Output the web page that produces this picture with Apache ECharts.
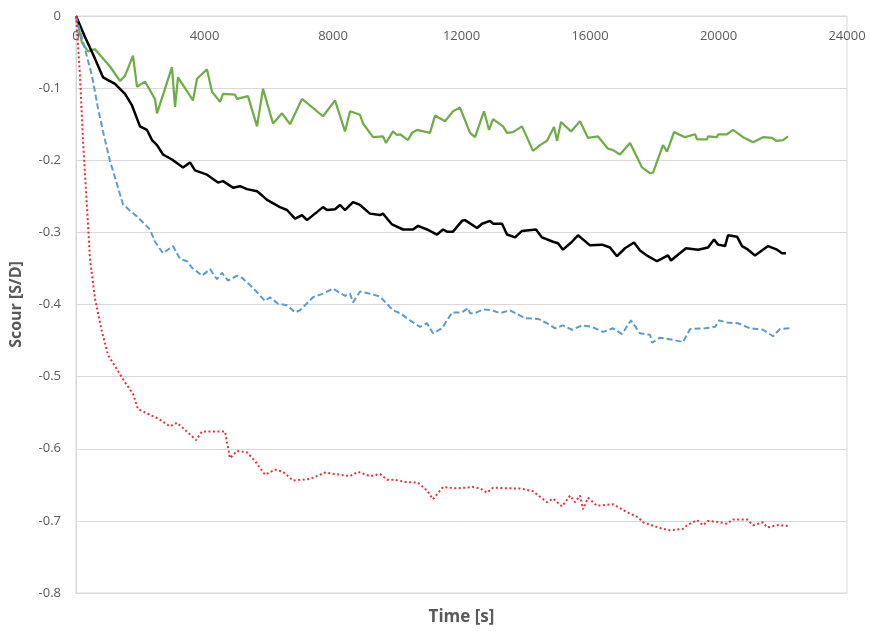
<!DOCTYPE html>
<html>
<head>
<meta charset="utf-8">
<script src="https://cdn.jsdelivr.net/npm/echarts@6/dist/echarts.min.js"></script>
<style>
  html, body { margin: 0; padding: 0; background: #fff; }
  #chart { width: 870px; height: 631px; }
</style>
</head>
<body>
<div id="chart"></div>
<script>
// time [s] and scour [S/D]
var greenT = [0, 187, 374, 591, 1058, 1370, 1525, 1774, 1899, 2148, 2459, 2522, 2988, 3082, 3175, 3455, 3642, 3767, 4078, 4234, 4483, 4576, 4950, 5012, 5354, 5635, 5821, 6133, 6413, 6662, 7035, 7689, 8063, 8374, 8530, 8841, 8934, 9246, 9557, 9650, 9868, 9993, 10086, 10335, 10460, 10615, 11020, 11176, 11487, 11736, 11954, 12265, 12421, 12701, 12857, 12981, 13293, 13417, 13604, 13884, 14226, 14444, 14662, 14880, 14974, 15098, 15409, 15689, 15938, 16250, 16561, 16717, 16935, 17246, 17620, 17869, 17962, 18273, 18398, 18616, 18958, 19270, 19332, 19643, 19674, 19954, 19986, 20266, 20453, 20764, 21075, 21387, 21667, 21792, 22009, 22165];
var greenV = [0, -0.037, -0.049, -0.046, -0.070, -0.090, -0.083, -0.055, -0.098, -0.091, -0.115, -0.135, -0.071, -0.126, -0.085, -0.104, -0.117, -0.087, -0.074, -0.105, -0.119, -0.108, -0.109, -0.115, -0.111, -0.153, -0.101, -0.149, -0.135, -0.150, -0.115, -0.139, -0.117, -0.160, -0.132, -0.137, -0.149, -0.168, -0.167, -0.176, -0.160, -0.165, -0.164, -0.172, -0.162, -0.158, -0.162, -0.138, -0.146, -0.132, -0.127, -0.162, -0.168, -0.132, -0.158, -0.143, -0.153, -0.162, -0.161, -0.153, -0.187, -0.179, -0.173, -0.154, -0.173, -0.147, -0.160, -0.146, -0.169, -0.167, -0.184, -0.186, -0.192, -0.176, -0.210, -0.218, -0.217, -0.179, -0.188, -0.161, -0.168, -0.164, -0.171, -0.171, -0.167, -0.168, -0.164, -0.164, -0.158, -0.168, -0.175, -0.168, -0.169, -0.173, -0.172, -0.167];

var blackT = [0, 280, 529, 841, 1214, 1525, 1743, 1992, 2210, 2366, 2522, 2708, 2988, 3331, 3549, 3704, 4078, 4420, 4576, 4887, 5105, 5323, 5635, 5821, 5946, 6350, 6568, 6817, 7035, 7191, 7689, 7814, 8063, 8218, 8374, 8623, 8841, 9152, 9464, 9557, 9837, 10180, 10491, 10647, 10927, 11238, 11425, 11549, 11736, 12016, 12110, 12483, 12639, 12888, 12981, 13262, 13417, 13666, 13884, 14320, 14507, 14849, 15005, 15160, 15440, 15627, 16001, 16374, 16623, 16841, 17090, 17370, 17557, 17806, 18086, 18429, 18522, 18709, 18989, 19363, 19674, 19861, 19986, 20204, 20297, 20577, 20733, 20919, 21137, 21542, 21822, 21978, 22102];
var blackV = [0, -0.029, -0.053, -0.085, -0.094, -0.108, -0.124, -0.153, -0.158, -0.172, -0.179, -0.192, -0.199, -0.210, -0.203, -0.214, -0.220, -0.231, -0.229, -0.238, -0.236, -0.240, -0.243, -0.250, -0.255, -0.265, -0.269, -0.281, -0.276, -0.283, -0.265, -0.269, -0.268, -0.262, -0.269, -0.258, -0.262, -0.274, -0.276, -0.274, -0.289, -0.296, -0.296, -0.291, -0.296, -0.303, -0.296, -0.299, -0.299, -0.284, -0.283, -0.294, -0.288, -0.284, -0.288, -0.288, -0.303, -0.307, -0.298, -0.296, -0.307, -0.313, -0.315, -0.324, -0.313, -0.304, -0.318, -0.317, -0.321, -0.333, -0.322, -0.314, -0.325, -0.333, -0.340, -0.332, -0.339, -0.332, -0.322, -0.324, -0.321, -0.310, -0.317, -0.319, -0.304, -0.306, -0.319, -0.324, -0.332, -0.319, -0.324, -0.329, -0.329];

var blueT = [0, 31, 280, 498, 685, 841, 1058, 1276, 1463, 1681, 1899, 2304, 2459, 2708, 3020, 3238, 3455, 3611, 3922, 4171, 4389, 4545, 4732, 5012, 5168, 5510, 5884, 6039, 6288, 6568, 6817, 6973, 7378, 7689, 8000, 8374, 8530, 8623, 8841, 9152, 9464, 9868, 10086, 10397, 10709, 10927, 11113, 11394, 11705, 12016, 12203, 12265, 12421, 12670, 12950, 13199, 13510, 13977, 14382, 14662, 14911, 15160, 15440, 15752, 16063, 16406, 16717, 16997, 17277, 17557, 17869, 17931, 18180, 18585, 18896, 19114, 19581, 19892, 20017, 20266, 20608, 20982, 21387, 21698, 21916, 22227];
var blueV = [0, -0.005, -0.046, -0.083, -0.128, -0.160, -0.201, -0.233, -0.261, -0.270, -0.278, -0.296, -0.313, -0.329, -0.319, -0.337, -0.340, -0.349, -0.360, -0.351, -0.365, -0.356, -0.367, -0.360, -0.363, -0.377, -0.395, -0.390, -0.399, -0.401, -0.411, -0.408, -0.390, -0.385, -0.378, -0.388, -0.385, -0.397, -0.382, -0.385, -0.389, -0.408, -0.412, -0.422, -0.431, -0.426, -0.440, -0.433, -0.411, -0.411, -0.405, -0.412, -0.412, -0.407, -0.408, -0.412, -0.408, -0.419, -0.420, -0.426, -0.433, -0.429, -0.435, -0.429, -0.431, -0.438, -0.433, -0.441, -0.422, -0.440, -0.442, -0.453, -0.446, -0.449, -0.452, -0.434, -0.433, -0.431, -0.422, -0.425, -0.426, -0.433, -0.435, -0.444, -0.434, -0.433];

var redT = [0, 10, 125, 218, 342, 436, 591, 809, 996, 1276, 1525, 1774, 1930, 2304, 2553, 2926, 3144, 3424, 3736, 3922, 4265, 4638, 4794, 5012, 5323, 5572, 5884, 6195, 6444, 6755, 7284, 7751, 8063, 8530, 8779, 9152, 9464, 9682, 9930, 10242, 10647, 10927, 11113, 11425, 11861, 12359, 12577, 12795, 12981, 13604, 13822, 14226, 14662, 14849, 15129, 15378, 15534, 15689, 15783, 15938, 16219, 16717, 17153, 17495, 17651, 18180, 18491, 18896, 19021, 19332, 19519, 19674, 20048, 20266, 20453, 20889, 21075, 21387, 21511, 21822, 22227];
var redV = [0, -0.005, -0.083, -0.173, -0.265, -0.337, -0.392, -0.438, -0.470, -0.490, -0.508, -0.524, -0.545, -0.553, -0.558, -0.569, -0.564, -0.575, -0.588, -0.576, -0.576, -0.576, -0.613, -0.603, -0.605, -0.617, -0.636, -0.629, -0.632, -0.644, -0.642, -0.633, -0.635, -0.638, -0.632, -0.638, -0.635, -0.643, -0.643, -0.646, -0.647, -0.658, -0.670, -0.653, -0.655, -0.653, -0.655, -0.661, -0.654, -0.655, -0.655, -0.659, -0.674, -0.669, -0.680, -0.665, -0.674, -0.665, -0.684, -0.668, -0.679, -0.677, -0.688, -0.695, -0.702, -0.710, -0.713, -0.711, -0.706, -0.699, -0.706, -0.700, -0.702, -0.704, -0.698, -0.698, -0.706, -0.702, -0.709, -0.706, -0.707];

var pairs = function (t, v) {
    var out = [];
    t.forEach(function (x, i) { out.push([x, v[i]]); });
    return out;
};

var gray = '#595959';
var lineGray = '#d9d9d9';

var myChart = echarts.init(document.getElementById('chart'));

var options = {
    animation: false,
    backgroundColor: '#fff',
    grid: {
        left: 76, right: 23, top: 16, bottom: 29,
        show: true, borderColor: lineGray, borderWidth: 1
    },
    xAxis: [
        {
            type: 'value',
            position: 'top',
            min: 0, max: 24000, interval: 4000,
            axisLine: { show: true, onZero: false, lineStyle: { color: lineGray } },
            axisTick: { show: false },
            axisLabel: {
                inside: true, margin: 14, color: gray, fontSize: 13, fontFamily: 'Open Sans',
                formatter: function (v) { return String(v); }
            },
            splitLine: { show: false }
        },
        {
            type: 'value',
            position: 'bottom',
            min: 0, max: 24000,
            name: 'Time [s]',
            nameLocation: 'middle',
            nameGap: 16,
            nameTextStyle: { color: gray, fontSize: 17, fontWeight: 'bold', fontFamily: 'Open Sans' },
            axisLine: { show: true, onZero: false, lineStyle: { color: lineGray } },
            axisTick: { show: false },
            axisLabel: { show: false },
            splitLine: { show: false }
        }
    ],
    yAxis: {
        type: 'value',
        min: -0.8, max: 0, interval: 0.1,
        name: 'Scour [S/D]',
        nameLocation: 'middle',
        nameRotate: 90,
        nameGap: 52,
        nameTextStyle: { color: gray, fontSize: 16, fontWeight: 'bold', fontFamily: 'Open Sans' },
        axisLine: { show: true, lineStyle: { color: lineGray } },
        axisTick: { show: false },
        axisLabel: { margin: 15, color: gray, fontSize: 13, fontFamily: 'Open Sans' },
        splitLine: { show: true, lineStyle: { color: lineGray } }
    },
    series: [
        {
            name: 'green', type: 'line', showSymbol: false,
            data: pairs(greenT, greenV),
            lineStyle: { color: '#70ad47', width: 2.25 }
        },
        {
            name: 'black', type: 'line', showSymbol: false,
            data: pairs(blackT, blackV),
            lineStyle: { color: '#000000', width: 2.5 }
        },
        {
            name: 'blue', type: 'line', showSymbol: false,
            data: pairs(blueT, blueV),
            lineStyle: { color: '#5b9bd5', width: 2, type: [6, 3] }
        },
        {
            name: 'red', type: 'line', showSymbol: false,
            data: pairs(redT, redV),
            lineStyle: { color: '#e8303a', width: 2, type: [2, 2.5] }
        }
    ]
};

myChart.setOption(options);
</script>
</body>
</html>
